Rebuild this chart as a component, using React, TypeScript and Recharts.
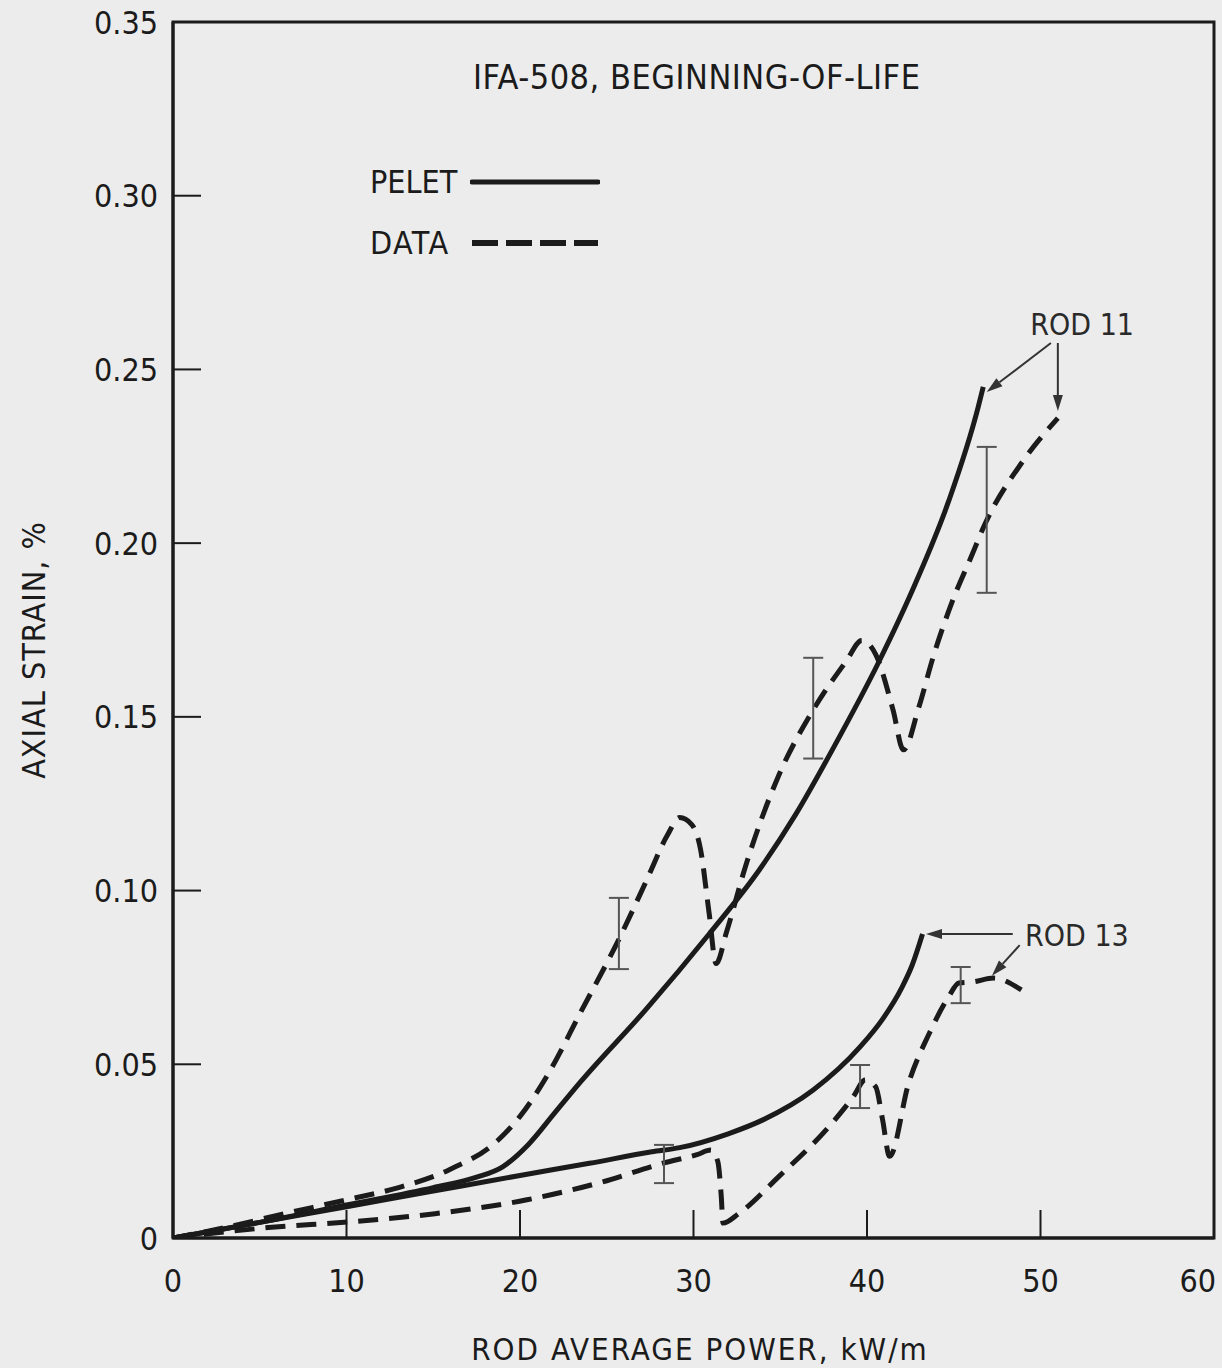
import React from "react";
import {
  ComposedChart,
  Line,
  Scatter,
  ErrorBar,
  XAxis,
  YAxis,
  ReferenceArea,
  ReferenceLine,
  ReferenceDot,
} from "recharts";

// power in kW/m, strain in %
const rod11Pelet = [
  { power: 0, strain: 0 },
  { power: 5, strain: 0.0045 },
  { power: 10, strain: 0.0095 },
  { power: 15, strain: 0.0145 },
  { power: 17.5, strain: 0.0175 },
  { power: 19, strain: 0.0205 },
  { power: 20.5, strain: 0.027 },
  { power: 22, strain: 0.036 },
  { power: 23.5, strain: 0.045 },
  { power: 27.3, strain: 0.066 },
  { power: 30.9, strain: 0.0875 },
  { power: 33.8, strain: 0.106 },
  { power: 35.9, strain: 0.122 },
  { power: 38, strain: 0.1405 },
  { power: 40.7, strain: 0.166 },
  { power: 42.8, strain: 0.1885 },
  { power: 44.7, strain: 0.212 },
  { power: 46.4, strain: 0.239 },
  { power: 46.7, strain: 0.245 },
];

const rod11Data = [
  { power: 0, strain: 0 },
  { power: 3, strain: 0.003 },
  { power: 6, strain: 0.0065 },
  { power: 10, strain: 0.011 },
  { power: 13, strain: 0.0145 },
  { power: 15.9, strain: 0.0196 },
  { power: 18.7, strain: 0.028 },
  { power: 20, strain: 0.035 },
  { power: 21.6, strain: 0.047 },
  { power: 23.5, strain: 0.065 },
  { power: 25.8, strain: 0.087 },
  { power: 27.3, strain: 0.103 },
  { power: 28.5, strain: 0.116 },
  { power: 29.2, strain: 0.121 },
  { power: 29.9, strain: 0.119 },
  { power: 30.4, strain: 0.112 },
  { power: 30.9, strain: 0.0935 },
  { power: 31.3, strain: 0.079 },
  { power: 31.9, strain: 0.088 },
  { power: 33.0, strain: 0.107 },
  { power: 34.9, strain: 0.133 },
  { power: 36.9, strain: 0.152 },
  { power: 38.8, strain: 0.166 },
  { power: 39.7, strain: 0.172 },
  { power: 40.5, strain: 0.168 },
  { power: 41.5, strain: 0.152 },
  { power: 42.1, strain: 0.1405 },
  { power: 43.0, strain: 0.153 },
  { power: 43.8, strain: 0.167 },
  { power: 44.9, strain: 0.183 },
  { power: 46.0, strain: 0.196 },
  { power: 46.8, strain: 0.2055 },
  { power: 48.9, strain: 0.223 },
  { power: 51.0, strain: 0.236 },
];

const rod13Pelet = [
  { power: 0, strain: 0 },
  { power: 5, strain: 0.0045 },
  { power: 10, strain: 0.009 },
  { power: 15, strain: 0.0135 },
  { power: 20, strain: 0.018 },
  { power: 24, strain: 0.0215 },
  { power: 27.6, strain: 0.0248 },
  { power: 29.2, strain: 0.026 },
  { power: 32, strain: 0.03 },
  { power: 34, strain: 0.034 },
  { power: 36.9, strain: 0.0426 },
  { power: 39.6, strain: 0.055 },
  { power: 40.9, strain: 0.063 },
  { power: 42, strain: 0.072 },
  { power: 42.6, strain: 0.0785 },
  { power: 43.2, strain: 0.0875 },
];

const rod13Data = [
  { power: 0, strain: 0 },
  { power: 2, strain: 0.0012 },
  { power: 5.5, strain: 0.003 },
  { power: 10.1, strain: 0.0046 },
  { power: 15.1, strain: 0.007 },
  { power: 20.4, strain: 0.011 },
  { power: 24.5, strain: 0.0158 },
  { power: 28.3, strain: 0.0216 },
  { power: 30.2, strain: 0.024 },
  { power: 31.0, strain: 0.0253 },
  { power: 31.4, strain: 0.022 },
  { power: 31.6, strain: 0.012 },
  { power: 31.7, strain: 0.0043 },
  { power: 32.6, strain: 0.007 },
  { power: 34.9, strain: 0.0176 },
  { power: 37.8, strain: 0.032 },
  { power: 39.2, strain: 0.0406 },
  { power: 39.9, strain: 0.0455 },
  { power: 40.5, strain: 0.0435 },
  { power: 40.9, strain: 0.034 },
  { power: 41.3, strain: 0.0235 },
  { power: 42.4, strain: 0.0446 },
  { power: 43.6, strain: 0.059 },
  { power: 44.7, strain: 0.0694 },
  { power: 45.3, strain: 0.0734 },
  { power: 46.1, strain: 0.0737 },
  { power: 47.3, strain: 0.0748 },
  { power: 48.9, strain: 0.0714 },
];

// measurement scatter: power, low and high strain
const rod11Bands = [
  { power: 25.7, low: 0.0774, high: 0.0979 },
  { power: 36.9, low: 0.138, high: 0.167 },
  { power: 46.9, low: 0.1857, high: 0.2277 },
];
const rod13Bands = [
  { power: 28.3, low: 0.0158, high: 0.0268 },
  { power: 39.6, low: 0.0374, high: 0.0498 },
  { power: 45.4, low: 0.0676, high: 0.078 },
];

const xTicks = [0, 10, 20, 30, 40, 50, 60];
const yTicks = [0, 0.05, 0.1, 0.15, 0.2, 0.25, 0.3, 0.35];

const FONT = "'Liberation Sans Narrow', 'DejaVu Sans Condensed', 'Arial Narrow', sans-serif";
const INK = "#1b1b1b";

const toBars = (rows: { power: number; low: number; high: number }[]) =>
  rows.map((r) => {
    const mid = (r.low + r.high) / 2;
    return { power: r.power, strain: mid, err: [mid - r.low, r.high - mid] };
  });

const YTick = (props: any) => {
  const { x, y, payload } = props;
  const v = payload.value;
  return (
    <g>
      {v > 0 && v < 0.34 && <line x1={x} x2={x + 28} y1={y} y2={y} stroke={INK} strokeWidth={2} />}
      <text x={x - 15} y={y} dy="0.36em" textAnchor="end" fontFamily={FONT} fontSize={32} fill={INK}>
        {v === 0 ? "0" : v.toFixed(2)}
      </text>
    </g>
  );
};

const XTick = (props: any) => {
  const { x, y, payload } = props;
  const v = payload.value;
  const last = v === 60;
  return (
    <g>
      {v > 0 && v < 60 && <line x1={x} x2={x} y1={y} y2={y - 28} stroke={INK} strokeWidth={2} />}
      <text x={last ? x + 2 : x} y={y + 54} textAnchor={last ? "end" : "middle"} fontFamily={FONT} fontSize={32} fill={INK}>
        {v}
      </text>
    </g>
  );
};

const Arrow = (props: any) => {
  const { x1, y1, x2, y2 } = props;
  const ang = Math.atan2(y2 - y1, x2 - x1);
  const len = 16;
  const half = 5;
  const bx = x2 - len * Math.cos(ang);
  const by = y2 - len * Math.sin(ang);
  const px = -Math.sin(ang) * half;
  const py = Math.cos(ang) * half;
  return (
    <g>
      <line x1={x1} y1={y1} x2={bx} y2={by} stroke="#333" strokeWidth={2} />
      <polygon points={`${x2},${y2} ${bx + px},${by + py} ${bx - px},${by - py}`} fill="#333" />
    </g>
  );
};

const rodLabel = (text: string) => (props: any) => (
  <text x={props.cx} y={props.cy} dy="0.36em" textAnchor="middle" fontFamily={FONT} fontSize={30} fill="#2a2a2a">
    {text}
  </text>
);

const none = () => <g />;

export default function App() {
  return (
    <div style={{ position: "relative", width: 1222, height: 1368, background: "#ececec", fontFamily: FONT, color: INK }}>
      <style>{"body{margin:0;background:#ececec}"}</style>
      <ComposedChart width={1222} height={1368} margin={{ top: 22, right: 8, bottom: 70, left: 73 }}>
        <XAxis
          type="number"
          dataKey="power"
          domain={[0, 60]}
          ticks={xTicks}
          tick={XTick}
          tickSize={0}
          tickMargin={0}
          height={60}
          stroke={INK}
          strokeWidth={3}
          allowDataOverflow
        />
        <YAxis
          type="number"
          dataKey="strain"
          domain={[0, 0.35]}
          ticks={yTicks}
          tick={YTick}
          tickSize={0}
          tickMargin={0}
          width={100}
          stroke={INK}
          strokeWidth={3}
          allowDataOverflow
        />
        <ReferenceArea x1={0} x2={60} y1={0} y2={0.35} fill="none" stroke={INK} strokeWidth={3} />

        <Line data={rod13Pelet} dataKey="strain" type="monotone" stroke={INK} strokeWidth={5} dot={false} isAnimationActive={false} />
        <Line data={rod11Pelet} dataKey="strain" type="monotone" stroke={INK} strokeWidth={5} dot={false} isAnimationActive={false} />
        <Line data={rod13Data} dataKey="strain" type="monotone" stroke={INK} strokeWidth={5} strokeDasharray="20 11" dot={false} isAnimationActive={false} />
        <Line data={rod11Data} dataKey="strain" type="monotone" stroke={INK} strokeWidth={5} strokeDasharray="20 11" dot={false} isAnimationActive={false} />

        <Scatter data={toBars(rod11Bands)} dataKey="strain" shape={none} isAnimationActive={false}>
          <ErrorBar dataKey="err" direction="y" width={10} stroke="#555" strokeWidth={2} isAnimationActive={false} />
        </Scatter>
        <Scatter data={toBars(rod13Bands)} dataKey="strain" shape={none} isAnimationActive={false}>
          <ErrorBar dataKey="err" direction="y" width={10} stroke="#555" strokeWidth={2} isAnimationActive={false} />
        </Scatter>

        <ReferenceDot x={52.4} y={0.263} r={0} shape={rodLabel("ROD 11")} />
        <ReferenceLine segment={[{ x: 50.6, y: 0.2576 }, { x: 46.9, y: 0.2435 }]} shape={Arrow} />
        <ReferenceLine segment={[{ x: 51.0, y: 0.2576 }, { x: 51.0, y: 0.238 }]} shape={Arrow} />

        <ReferenceDot x={52.1} y={0.0872} r={0} shape={rodLabel("ROD 13")} />
        <ReferenceLine segment={[{ x: 48.4, y: 0.0875 }, { x: 43.4, y: 0.0875 }]} shape={Arrow} />
        <ReferenceLine segment={[{ x: 48.8, y: 0.0843 }, { x: 47.2, y: 0.0755 }]} shape={Arrow} />
      </ComposedChart>

      <div style={{ position: "absolute", left: 473, top: 57, fontSize: 34, letterSpacing: 0.5, whiteSpace: "nowrap" }}>
        IFA-508, BEGINNING-OF-LIFE
      </div>

      <div style={{ position: "absolute", left: 370, top: 163, fontSize: 32, display: "flex", alignItems: "center" }}>
        <span style={{ width: 100 }}>PELET</span>
        <svg width={130} height={12}>
          <line x1={2} x2={128} y1={6} y2={6} stroke={INK} strokeWidth={5} strokeLinecap="round" />
        </svg>
      </div>
      <div style={{ position: "absolute", left: 370, top: 224, fontSize: 32, display: "flex", alignItems: "center" }}>
        <span style={{ width: 100, letterSpacing: 1.5 }}>DATA</span>
        <svg width={130} height={12}>
          <line x1={2} x2={128} y1={6} y2={6} stroke={INK} strokeWidth={6} strokeDasharray="26 8" />
        </svg>
      </div>

      <div
        style={{
          position: "absolute",
          left: 34,
          top: 650,
          fontSize: 32,
          letterSpacing: 1,
          whiteSpace: "nowrap",
          transform: "translate(-50%, -50%) rotate(-90deg)",
        }}
      >
        AXIAL STRAIN, %
      </div>

      <div style={{ position: "absolute", left: 700, top: 1349, fontSize: 31, letterSpacing: 2, whiteSpace: "nowrap", transform: "translate(-50%, -50%)" }}>
        ROD AVERAGE POWER, kW/m
      </div>
    </div>
  );
}
